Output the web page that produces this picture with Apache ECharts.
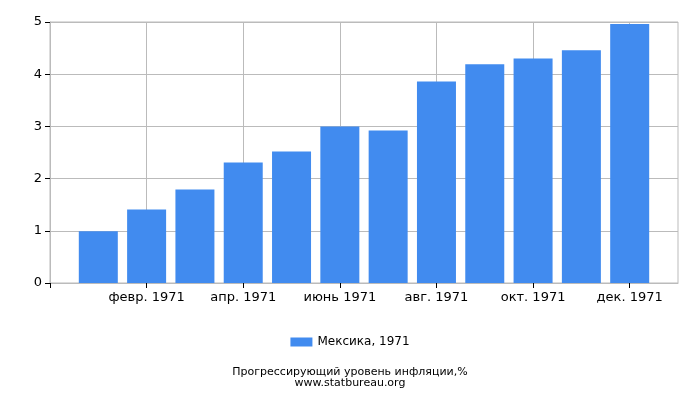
<!DOCTYPE html>
<html>
<head>
<meta charset="utf-8">
<script src="https://cdn.jsdelivr.net/npm/echarts@6/dist/echarts.min.js"></script>
<style>html,body{margin:0;padding:0;background:#fff;}#c{width:700px;height:400px;}</style>
</head>
<body>
<div id="c"></div>
<script>
var categories = ['', 'янв. 1971', 'февр. 1971', 'март 1971', 'апр. 1971', 'май 1971', 'июнь 1971', 'июль 1971', 'авг. 1971', 'сент. 1971', 'окт. 1971', 'нояб. 1971', 'дек. 1971', ''];
var values = [null, 0.99, 1.41, 1.79, 2.31, 2.52, 3.00, 2.92, 3.86, 4.19, 4.30, 4.46, 4.96, null];
var seriesName = 'Мексика, 1971';
var titleText = 'Прогрессирующий уровень инфляции,%';
var subText = 'www.statbureau.org';

var chart = echarts.init(document.getElementById('c'), null, {renderer: 'canvas'});
chart.setOption({
  animation: false,
  textStyle: {fontFamily: 'DejaVu Sans'},
  title: {
    text: titleText + '\n' + subText,
    left: 'center',
    top: 362,
    textStyle: {fontSize: 11, fontWeight: 'normal', color: '#000', lineHeight: 11, fontFamily: 'DejaVu Sans'}
  },
  legend: {
    top: 331,
    left: 'center',
    itemWidth: 22,
    itemHeight: 9,
    itemGap: 10,
    textStyle: {fontSize: 12, color: '#000', fontFamily: 'DejaVu Sans'},
    data: [{name: seriesName, icon: 'rect'}]
  },
  grid: {left: 50, right: 22, top: 22, bottom: 117, show: true, borderColor: '#bbb', borderWidth: 1},
  graphic: [],
  xAxis: {
    type: 'category',
    data: categories,
    boundaryGap: false,
    axisLine: {lineStyle: {color: '#bbb'}},
    axisTick: {interval: 1, length: 5, lineStyle: {color: '#000'}},
    axisLabel: {interval: 1, fontSize: 13, color: '#000', margin: 8, fontFamily: 'DejaVu Sans'},
    splitLine: {show: true, interval: 1, lineStyle: {color: '#bbb'}}
  },
  yAxis: {
    type: 'value',
    min: 0, max: 5, interval: 1,
    axisLine: {show: true, lineStyle: {color: '#bbb'}},
    axisTick: {show: true, length: 5, lineStyle: {color: '#000'}},
    axisLabel: {fontSize: 13, color: '#000', margin: 8, fontFamily: 'DejaVu Sans'},
    splitLine: {show: true, lineStyle: {color: '#bbb'}}
  },
  series: [{
    name: seriesName,
    type: 'bar',
    data: values,
    barWidth: 39,
    itemStyle: {color: '#418bef'}
  }]
});
</script>
</body>
</html>
